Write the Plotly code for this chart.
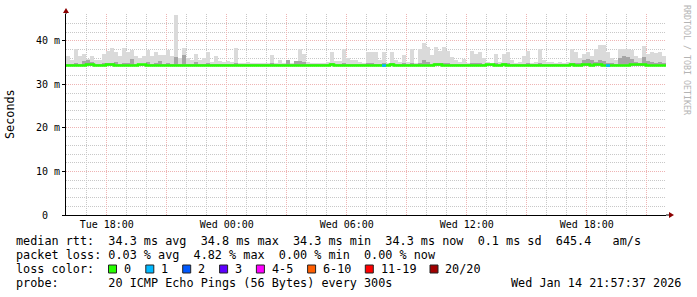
import plotly.graph_objects as go
from datetime import datetime, timedelta

# ---------------- data ----------------
START = datetime(2026, 1, 13, 15, 57, 37)
END = datetime(2026, 1, 14, 21, 57, 37)
STEP_MIN = 12          # one column = 12 minutes
SMOKE_FLOOR = 34.1     # lowest ping (ms)

# upper edge of light smoke (ms), one value per 12-minute column
smoke_top = [
    36.4, 35.6, 38.1, 36.4, 37.0, 35.9, 36.4, 35.6, 35.6, 37.0,
    37.6, 38.3, 37.5, 36.4, 38.3, 37.5, 37.8, 36.4, 36.0, 36.4,
    37.9, 36.4, 37.5, 36.8, 36.8, 37.9, 36.4, 46.0, 36.0, 38.3,
    36.0, 35.6, 37.0, 35.6, 36.0, 37.5, 35.2, 36.4, 35.4, 35.2,
    35.4, 35.2, 38.3, 35.0, 34.9, 35.2, 34.8, 35.0, 34.9, 34.8,
    35.0, 36.8, 35.0, 35.6, 35.0, 35.5, 35.0, 35.3, 38.1, 37.0,
    35.2, 35.0, 34.9, 35.0, 34.8, 35.2, 37.5, 35.3, 35.3, 38.1,
    36.0, 35.6, 35.6, 35.2, 35.0, 37.5, 37.5, 37.3, 35.5, 37.5,
    35.0, 37.4, 35.5, 35.2, 36.8, 35.2, 38.0, 35.0, 38.0, 39.5,
    38.5, 36.8, 38.5, 37.6, 38.6, 37.6, 36.2, 35.6, 35.2, 35.9,
    35.0, 37.6, 37.0, 37.3, 36.0, 35.2, 35.0, 37.0, 35.2, 37.0,
    37.3, 35.5, 35.0, 35.2, 36.4, 37.6, 35.0, 35.2, 38.2, 35.5,
    35.2, 35.2, 35.0, 35.2, 35.0, 35.2, 38.1, 37.5, 36.0, 37.0,
    37.5, 36.5, 38.2, 39.1, 39.0, 37.5, 36.0, 35.6, 38.1, 38.1,
    38.1, 37.8, 36.4, 36.0, 38.7, 37.0, 37.4, 37.2, 37.4, 36.4,
]

# upper edge of the dense (dark) smoke (ms)
smoke_dark = [
    34.6, 34.6, 34.8, 34.6, 35.3, 35.5, 35.2, 34.6, 34.6, 35.0,
    34.8, 35.0, 35.2, 34.6, 35.0, 34.8, 35.8, 34.6, 34.6, 34.6,
    35.2, 34.6, 34.8, 35.3, 34.6, 35.0, 34.6, 36.2, 34.6, 36.8,
    34.6, 34.6, 35.2, 34.6, 34.6, 34.8, 34.6, 34.6, 34.6, 34.6,
    34.6, 34.6, 34.8, 34.6, 34.6, 34.6, 34.6, 34.6, 34.6, 34.6,
    34.6, 34.8, 34.6, 34.6, 34.6, 35.5, 34.6, 35.3, 35.3, 35.2,
    34.6, 34.6, 34.6, 34.6, 34.6, 34.6, 34.8, 34.6, 34.6, 34.8,
    34.6, 34.6, 34.6, 34.6, 34.6, 34.8, 34.8, 34.6, 34.6, 34.8,
    34.6, 34.8, 34.6, 34.6, 34.8, 34.6, 35.0, 34.6, 35.0, 35.5,
    35.2, 34.6, 35.0, 35.0, 35.0, 34.8, 34.6, 34.6, 34.6, 34.6,
    34.6, 35.0, 34.8, 34.8, 34.6, 34.6, 34.6, 34.8, 34.6, 34.8,
    34.8, 34.6, 34.6, 34.6, 34.6, 34.8, 34.6, 34.6, 35.0, 34.6,
    34.6, 34.6, 34.6, 34.6, 34.6, 34.6, 35.0, 35.0, 34.8, 35.6,
    35.8, 35.6, 35.2, 35.5, 35.4, 35.0, 34.8, 34.6, 36.0, 36.5,
    36.3, 35.8, 35.2, 35.0, 36.2, 35.4, 35.2, 35.0, 35.2, 34.8,
]

# median rtt (ms)
median_ms = [
    34.3, 34.3, 34.3, 34.3, 34.3, 34.55, 34.55, 34.3, 34.3, 34.3,
    34.55, 34.55, 34.3, 34.3, 34.3, 34.3, 34.3, 34.3, 34.55, 34.55,
    34.3, 34.3, 34.3, 34.3, 34.3, 34.3, 34.3, 34.3, 34.3, 34.3,
    34.3, 34.3, 34.3, 34.3, 34.3, 34.3, 34.3, 34.3, 34.3, 34.3,
    34.3, 34.3, 34.3, 34.3, 34.3, 34.3, 34.3, 34.3, 34.3, 34.3,
    34.3, 34.3, 34.3, 34.3, 34.3, 34.3, 34.3, 34.3, 34.3, 34.3,
    34.3, 34.3, 34.3, 34.3, 34.3, 34.3, 34.55, 34.3, 34.3, 34.3,
    34.3, 34.3, 34.3, 34.3, 34.3, 34.3, 34.3, 34.3, 34.3, 34.3,
    34.3, 34.55, 34.3, 34.3, 34.3, 34.3, 34.3, 34.3, 34.3, 34.3,
    34.3, 34.3, 34.55, 34.55, 34.3, 34.3, 34.3, 34.3, 34.3, 34.3,
    34.3, 34.3, 34.3, 34.3, 34.3, 34.55, 34.55, 34.3, 34.3, 34.55,
    34.3, 34.3, 34.3, 34.3, 34.3, 34.3, 34.3, 34.3, 34.3, 34.3,
    34.3, 34.3, 34.3, 34.3, 34.3, 34.3, 34.55, 34.3, 34.3, 34.55,
    34.55, 34.3, 34.55, 34.55, 34.3, 34.3, 34.3, 34.3, 34.3, 34.3,
    34.3, 34.55, 34.55, 34.55, 34.55, 34.3, 34.3, 34.3, 34.3, 34.3,
]

# lost pings out of 20 per column
loss_cnt = [
    0, 0, 0, 0, 0, 0, 0, 0, 0, 0,
    0, 0, 0, 0, 0, 0, 0, 0, 0, 0,
    0, 0, 0, 0, 0, 0, 0, 0, 0, 0,
    0, 0, 0, 0, 0, 0, 0, 0, 0, 0,
    0, 0, 0, 0, 0, 0, 0, 0, 0, 0,
    0, 0, 0, 0, 0, 0, 0, 0, 0, 0,
    0, 0, 0, 0, 0, 0, 0, 0, 0, 0,
    0, 0, 0, 0, 0, 0, 0, 0, 0, 1,
    0, 0, 0, 0, 0, 0, 0, 0, 0, 0,
    0, 0, 0, 0, 0, 0, 0, 0, 0, 0,
    0, 0, 0, 0, 0, 0, 0, 0, 0, 0,
    0, 0, 0, 0, 0, 0, 0, 0, 0, 0,
    0, 0, 0, 0, 0, 0, 0, 0, 0, 0,
    0, 0, 0, 0, 0, 1, 0, 0, 0, 0,
    0, 0, 0, 0, 0, 0, 0, 0, 0, 0,
]

# loss colour classes: (max lost pings, label, colour)
loss_classes = [
    (0, "0", "#26ff00"),
    (1, "1", "#00b8ff"),
    (2, "2", "#0059ff"),
    (3, "3", "#5e00ff"),
    (5, "4-5", "#ff00ff"),
    (10, "6-10", "#ff5e00"),
    (19, "11-19", "#ff0000"),
    (20, "20/20", "#a10000"),
]

y_tick_vals = [0, 10, 20, 30, 40]
y_tick_text = ["0\u00a0\u00a0", "10\u00a0m", "20\u00a0m", "30\u00a0m", "40\u00a0m"]
x_tick_vals = [datetime(2026, 1, 13, 18) + timedelta(hours=3 * k) for k in range(10)]
x_tick_text = ["Tue 18:00", "", "Wed 00:00", "", "Wed 06:00", "",
               "Wed 12:00", "", "Wed 18:00", ""]

legend_rtt = "median rtt:  34.3 ms avg  34.8 ms max  34.3 ms min  34.3 ms now  0.1 ms sd  645.4   am/s"
legend_loss = "packet loss: 0.03 % avg  4.82 % max  0.00 % min  0.00 % now"
legend_color_title = "loss color:"
legend_probe = "probe:       20 ICMP Echo Pings (56 Bytes) every 300s"
legend_date = "Wed Jan 14 21:57:37 2026"
y_title = "Seconds"
watermark = "RRDTOOL / TOBI OETIKER"

# ---------------- layout geometry ----------------
W, H = 697, 297
L, R, T, B = 66, 31, 14, 82
PW, PH = W - L - R, H - T - B
MONO = "DejaVu Sans Mono"


def px(x):
    return (x - L) / PW


def py(y):
    return (H - B - y) / PH


def nb(s):
    return s.replace(" ", "\u00a0")


n = len(smoke_top)
centers = [START + timedelta(minutes=STEP_MIN * i + STEP_MIN / 2) for i in range(n)]
edges = [START + timedelta(minutes=STEP_MIN * i) for i in range(n + 1)]
bar_w = STEP_MIN * 60 * 1000

fig = go.Figure()
fig.add_trace(go.Bar(x=centers, y=[t - SMOKE_FLOOR for t in smoke_top], base=SMOKE_FLOOR,
                     width=bar_w, marker=dict(color="#dadada", line=dict(width=0)),
                     hoverinfo="skip"))
fig.add_trace(go.Bar(x=centers, y=[t - SMOKE_FLOOR for t in smoke_dark], base=SMOKE_FLOOR,
                     width=bar_w, marker=dict(color="#a6a6a6", line=dict(width=0)),
                     hoverinfo="skip"))


def loss_color(c):
    for mx, _, col in loss_classes:
        if c <= mx:
            return col
    return loss_classes[-1][2]


med_y = median_ms + [median_ms[-1]]
fig.add_trace(go.Scatter(x=edges, y=med_y, mode="lines", line=dict(color=loss_classes[0][2], width=2.5, shape="hv"),
                         hoverinfo="skip"))
for mx, lab, col in loss_classes[1:]:
    ys = [None] * (n + 1)
    used = False
    for i, c in enumerate(loss_cnt):
        if c > 0 and loss_color(c) == col:
            ys[i] = median_ms[i]
            ys[i + 1] = median_ms[i]
            used = True
    if used:
        fig.add_trace(go.Scatter(x=edges, y=ys, mode="lines", connectgaps=False,
                                 line=dict(color=col, width=2.5, shape="hv"), hoverinfo="skip"))

GRID_GRAY = "#c8c8c8"
GRID_RED = "#eeb4b4"

fig.update_layout(
    width=W, height=H, margin=dict(l=L, r=R, t=T, b=B),
    paper_bgcolor="white", plot_bgcolor="white",
    showlegend=False, barmode="overlay", bargap=0,
    font=dict(family=MONO, size=10, color="#000000"),
    xaxis=dict(type="date", range=[START, END], tickmode="array", tickvals=x_tick_vals,
               ticktext=x_tick_text, showgrid=True, gridcolor=GRID_RED, griddash="1px,1px",
               gridwidth=1, ticks="", showline=True, linecolor="black", linewidth=1,
               zeroline=False, tickfont=dict(family=MONO, size=10, color="#000"),
               minor=dict(dtick=3600000, tick0="2026-01-13 00:00:00", showgrid=True,
                          gridcolor=GRID_GRAY, griddash="1px,1px", gridwidth=1)),
    yaxis=dict(range=[0, PH / 4.357], tickmode="array", tickvals=y_tick_vals, ticktext=y_tick_text,
               showgrid=True, gridcolor=GRID_RED, griddash="1px,1px", gridwidth=1,
               ticks="outside", ticklen=3, tickcolor="black", showline=True, linecolor="black",
               linewidth=1, zeroline=False, tickfont=dict(family=MONO, size=10, color="#000"),
               minor=dict(dtick=2, tick0=0, showgrid=True, gridcolor=GRID_GRAY,
                          griddash="1px,1px", gridwidth=1)),
)

ARROW = "#8b0000"
shapes = [
    dict(type="line", xref="paper", yref="paper", xsizemode="pixel", xanchor=1,
         x0=0, x1=4, y0=0, y1=0, line=dict(color="black", width=1)),
    dict(type="path", xref="paper", yref="paper", xsizemode="pixel", ysizemode="pixel",
         xanchor=1, yanchor=0, path="M 3,-3 L 3,3 L 8,0 Z", fillcolor=ARROW, line=dict(width=0)),
    dict(type="line", xref="paper", yref="paper", ysizemode="pixel", yanchor=1,
         x0=0, x1=0, y0=0, y1=2, line=dict(color="black", width=1)),
    dict(type="path", xref="paper", yref="paper", xsizemode="pixel", ysizemode="pixel",
         xanchor=0, yanchor=1, path="M -3,1 L 3,1 L 0,6 Z", fillcolor=ARROW, line=dict(width=0)),
]

annotations = []


def text(x, y, s, size=11.8, anchor="left", color="#000", angle=0):
    annotations.append(dict(x=px(x), y=py(y), xref="paper", yref="paper", text=nb(s),
                            showarrow=False, xanchor=anchor, yanchor="middle", textangle=angle,
                            font=dict(family=MONO, size=size, color=color), borderpad=0))


text(15, 241, legend_rtt)
text(15, 255, legend_loss)
text(15, 269, legend_color_title)
text(15, 283, legend_probe)
text(682, 283, legend_date, anchor="right")
text(10, 114, y_title, size=11.8, anchor="center", angle=-90)
text(687, 60, watermark, size=8.3, anchor="center", color="#b4b4b4", angle=90)

box_x = [108.5, 145.8, 182.7, 219.6, 256.4, 307.6, 365.3, 430.0]
lab_x = [122.5, 159.5, 196.5, 233.5, 270.5, 321.5, 379.5, 444.0]
for (mx, lab, col), bx, lx in zip(loss_classes, box_x, lab_x):
    shapes.append(dict(type="rect", xref="paper", yref="paper",
                       x0=px(bx), x1=px(bx + 8), y0=py(273), y1=py(265),
                       fillcolor=col, line=dict(color="#222", width=1)))
    text(lx, 269, lab)

fig.update_layout(shapes=shapes, annotations=annotations)
fig.write_html("out.html")
